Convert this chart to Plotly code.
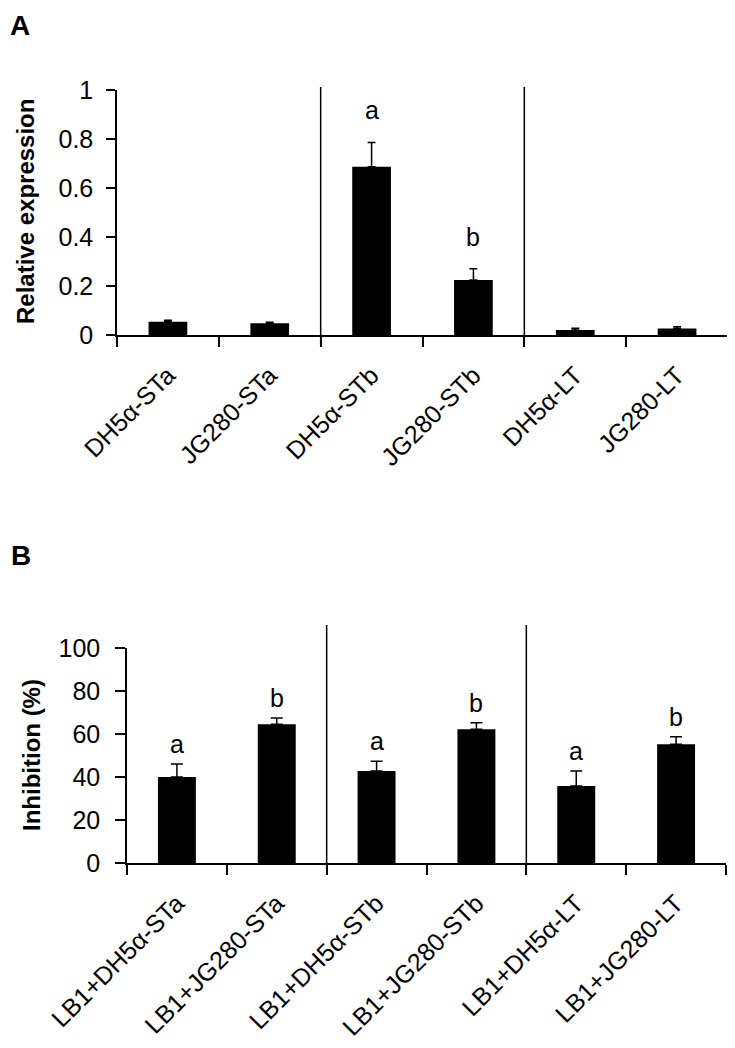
import plotly.graph_objects as go

# ---- Panel A data ----
cats_a = ["DH5α-STa", "JG280-STa", "DH5α-STb", "JG280-STb", "DH5α-LT", "JG280-LT"]
expr = [0.054, 0.048, 0.687, 0.224, 0.020, 0.027]
expr_err = [0.006, 0.004, 0.099, 0.046, 0.008, 0.007]
sig_a = ["", "", "a", "b", "", ""]

# ---- Panel B data ----
cats_b = ["LB1+DH5α-STa", "LB1+JG280-STa", "LB1+DH5α-STb", "LB1+JG280-STb", "LB1+DH5α-LT", "LB1+JG280-LT"]
inhib = [40.0, 64.5, 42.8, 62.2, 35.8, 55.2]
inhib_err = [6.0, 3.0, 4.5, 3.0, 7.0, 3.5]
sig_b = ["a", "b", "a", "b", "a", "b"]

W, H = 735, 1048
OFF = 8  # page body margin offset compensation
FONT = "Liberation Sans, Arial, sans-serif"

def px_x(p):
    return (p - OFF) / W

def px_y(p):
    return 1 - (p - OFF) / H

fig = go.Figure()
fig.add_trace(go.Bar(
    x=cats_a, y=expr, width=0.38, marker=dict(color="black", line=dict(width=0)),
    error_y=dict(type="data", array=expr_err, arrayminus=[0] * len(expr_err), symmetric=False,
                 color="black", thickness=1.5, width=4),
    xaxis="x", yaxis="y", showlegend=False))
fig.add_trace(go.Bar(
    x=cats_b, y=inhib, width=0.38, marker=dict(color="black", line=dict(width=0)),
    error_y=dict(type="data", array=inhib_err, arrayminus=[0] * len(inhib_err), symmetric=False,
                 color="black", thickness=1.5, width=6),
    xaxis="x2", yaxis="y2", showlegend=False))

axis_common = dict(showline=True, linecolor="black", linewidth=1.5, ticks="outside",
                   tickcolor="black", tickwidth=1.5, showgrid=False, zeroline=False,
                   automargin=False,
                   tickfont=dict(family=FONT, size=25, color="black"))

fig.update_layout(
    width=W, height=H, margin=dict(l=0, r=0, t=0, b=0, autoexpand=False),
    plot_bgcolor="white", paper_bgcolor="white",
    font=dict(family=FONT, color="black"),
    bargap=0.6,
    xaxis=dict(domain=[px_x(117), px_x(728)], anchor="y", type="category",
               tickson="boundaries", ticklen=10, tickangle=-45, ticklabelstandoff=14,
               range=[-0.5, 5.5], **axis_common),
    yaxis=dict(domain=[px_y(335), px_y(90)], anchor="x", range=[0, 1], dtick=0.2,
               ticklen=9, ticklabelstandoff=8, **axis_common),
    xaxis2=dict(domain=[px_x(127), px_x(726)], anchor="y2", type="category",
                tickson="boundaries", ticklen=10, tickangle=-45, ticklabelstandoff=14,
                range=[-0.5, 5.5], **axis_common),
    yaxis2=dict(domain=[px_y(863), px_y(648)], anchor="x2", range=[0, 100], dtick=20,
                ticklen=10, ticklabelstandoff=10, **axis_common),
)

# group separator lines
for xr, y0, y1 in [("x", 345, 87), ("x2", 872, 625)]:
    for xv in [1.5, 3.5]:
        fig.add_shape(type="line", xref=xr, yref="paper", x0=xv, x1=xv,
                      y0=px_y(y0), y1=px_y(y1), line=dict(color="black", width=1.5))

# significance letters
for c, v, e, s in zip(cats_a, expr, expr_err, sig_a):
    if s:
        fig.add_annotation(x=c, y=v + e, xref="x", yref="y", text=s, showarrow=False,
                           yanchor="middle", yshift=32, font=dict(family=FONT, size=25))
for c, v, e, s in zip(cats_b, inhib, inhib_err, sig_b):
    if s:
        fig.add_annotation(x=c, y=v + e, xref="x2", yref="y2", text=s, showarrow=False,
                           yanchor="middle", yshift=20, font=dict(family=FONT, size=25))

# axis titles
fig.add_annotation(x=px_x(26), y=px_y(212), xref="paper", yref="paper", text="<b>Relative expression</b>",
                   textangle=-90, showarrow=False, xanchor="center", yanchor="middle",
                   font=dict(family=FONT, size=24))
fig.add_annotation(x=px_x(31), y=px_y(755), xref="paper", yref="paper", text="<b>Inhibition (%)</b>",
                   textangle=-90, showarrow=False, xanchor="center", yanchor="middle",
                   font=dict(family=FONT, size=24))

# panel letters
fig.add_annotation(x=px_x(8), y=px_y(8), xref="paper", yref="paper", text="<b>A</b>",
                   showarrow=False, xanchor="left", yanchor="top", font=dict(family=FONT, size=28))
fig.add_annotation(x=px_x(9), y=px_y(538), xref="paper", yref="paper", text="<b>B</b>",
                   showarrow=False, xanchor="left", yanchor="top", font=dict(family=FONT, size=28))

fig.write_html("out.html")
